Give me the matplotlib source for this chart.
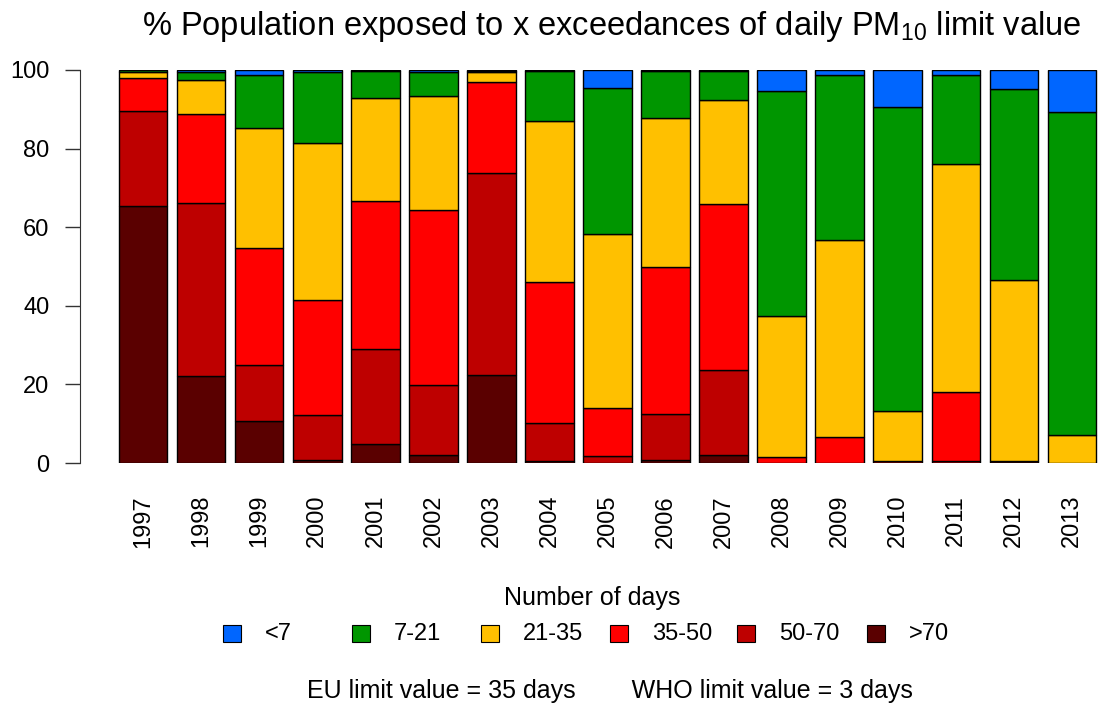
import matplotlib
matplotlib.use("Agg")
import matplotlib.pyplot as plt
from matplotlib.patches import Rectangle
import numpy as np

plt.rcParams["font.family"] = ["Liberation Sans", "DejaVu Sans"]
plt.rcParams["mathtext.fontset"] = "custom"
plt.rcParams["mathtext.rm"] = "Liberation Sans"
plt.rcParams["mathtext.default"] = "rm"

# --- Data ---------------------------------------------------------------------

years = ["1997", "1998", "1999", "2000", "2001", "2002", "2003", "2004", "2005",
         "2006", "2007", "2008", "2009", "2010", "2011", "2012", "2013"]

# % population per class of exceedance days (stacked bottom -> top)
d_gt70 = [65.4, 22.1, 10.7, 0.8, 4.8, 2.0, 22.5, 0.5, 0.0,
          0.8, 2.0, 0.0, 0.0, 0.0, 0.0, 0.5, 0.0]
d_50_70 = [24.2, 44.1, 14.3, 11.3, 24.3, 17.8, 51.4, 9.8, 1.9,
           11.7, 21.6, 0.0, 0.0, 0.5, 0.5, 0.0, 0.0]
d_35_50 = [8.4, 22.5, 29.6, 29.5, 37.6, 44.5, 23.0, 35.8, 12.0,
           37.5, 42.2, 1.6, 6.7, 0.0, 17.6, 0.0, 0.0]
d_21_35 = [1.4, 8.8, 30.6, 39.7, 26.1, 29.2, 2.6, 40.8, 44.4,
           37.9, 26.6, 35.9, 50.0, 12.8, 57.9, 46.1, 7.1]
d_7_21 = [0.6, 2.1, 13.5, 18.2, 6.9, 6.0, 0.3, 12.8, 37.2,
          11.8, 7.3, 57.2, 42.0, 77.4, 22.7, 48.5, 82.3]
d_lt7 = [0.0, 0.4, 1.3, 0.5, 0.3, 0.5, 0.2, 0.3, 4.5,
         0.3, 0.3, 5.3, 1.3, 9.3, 1.3, 4.9, 10.6]

series = [d_gt70, d_50_70, d_35_50, d_21_35, d_7_21, d_lt7]
series_colors = ["#5A0000", "#BE0000", "#FF0000", "#FFC000", "#009600", "#0066FF"]

legend_labels = ["<7", "7-21", "21-35", "35-50", "50-70", ">70"]
legend_colors = ["#0066FF", "#009600", "#FFC000", "#FF0000", "#BE0000", "#5A0000"]

# --- Plot ---------------------------------------------------------------------

W, H = 1100, 706
fig = plt.figure(figsize=(W / 100, H / 100), dpi=100)
# plot region runs past the right edge, like the original
ax = fig.add_axes([80 / W, (H - 463) / H, (1135 - 80) / W, (463 - 70) / H])

x = 0.7 + 1.2 * np.arange(len(years))
bottom = np.zeros(len(years))
for vals, col in zip(series, series_colors):
    ax.bar(x, vals, width=1.0, bottom=bottom, color=col,
           edgecolor="black", linewidth=1.0)
    bottom += np.array(vals)

ax.set_xlim(-0.608, 21.208)
ax.set_ylim(0, 100)
for s in ["top", "right", "bottom"]:
    ax.spines[s].set_visible(False)
ax.spines["left"].set_bounds(0, 100)
ax.spines["left"].set_color("#333333")

ax.set_yticks([0, 20, 40, 60, 80, 100])
ax.tick_params(axis="y", direction="out", length=11, width=1, pad=11,
               labelsize=17, color="#333333")
ax.set_xticks(x)
ax.set_xticklabels(years, rotation=90, fontsize=17)
ax.tick_params(axis="x", length=0, pad=23)

fig.text(612 / W, 1 - 35 / H,
         "% Population exposed to x exceedances of daily PM$_{10}$ limit value",
         ha="center", va="baseline", fontsize=23.5)

# legend
fig.text(592 / W, 1 - 598 / H, "Number of days", ha="center", va="center", fontsize=18)
sq_left = [223, 352, 481, 610, 737, 867]
for lab, col, xl in zip(legend_labels, legend_colors, sq_left):
    fig.patches.append(Rectangle((xl / W, 1 - 642 / H), 18 / W, 17 / H,
                                 transform=fig.transFigure, facecolor=col,
                                 edgecolor="black", linewidth=0.8))
    fig.text((xl + 42) / W, 1 - 634 / H, lab, ha="left", va="center", fontsize=17)

fig.text(610 / W, 1 - 691 / H,
         "EU limit value = 35 days        WHO limit value = 3 days",
         ha="center", va="center", fontsize=18)

fig.savefig("out.png", dpi=100)
